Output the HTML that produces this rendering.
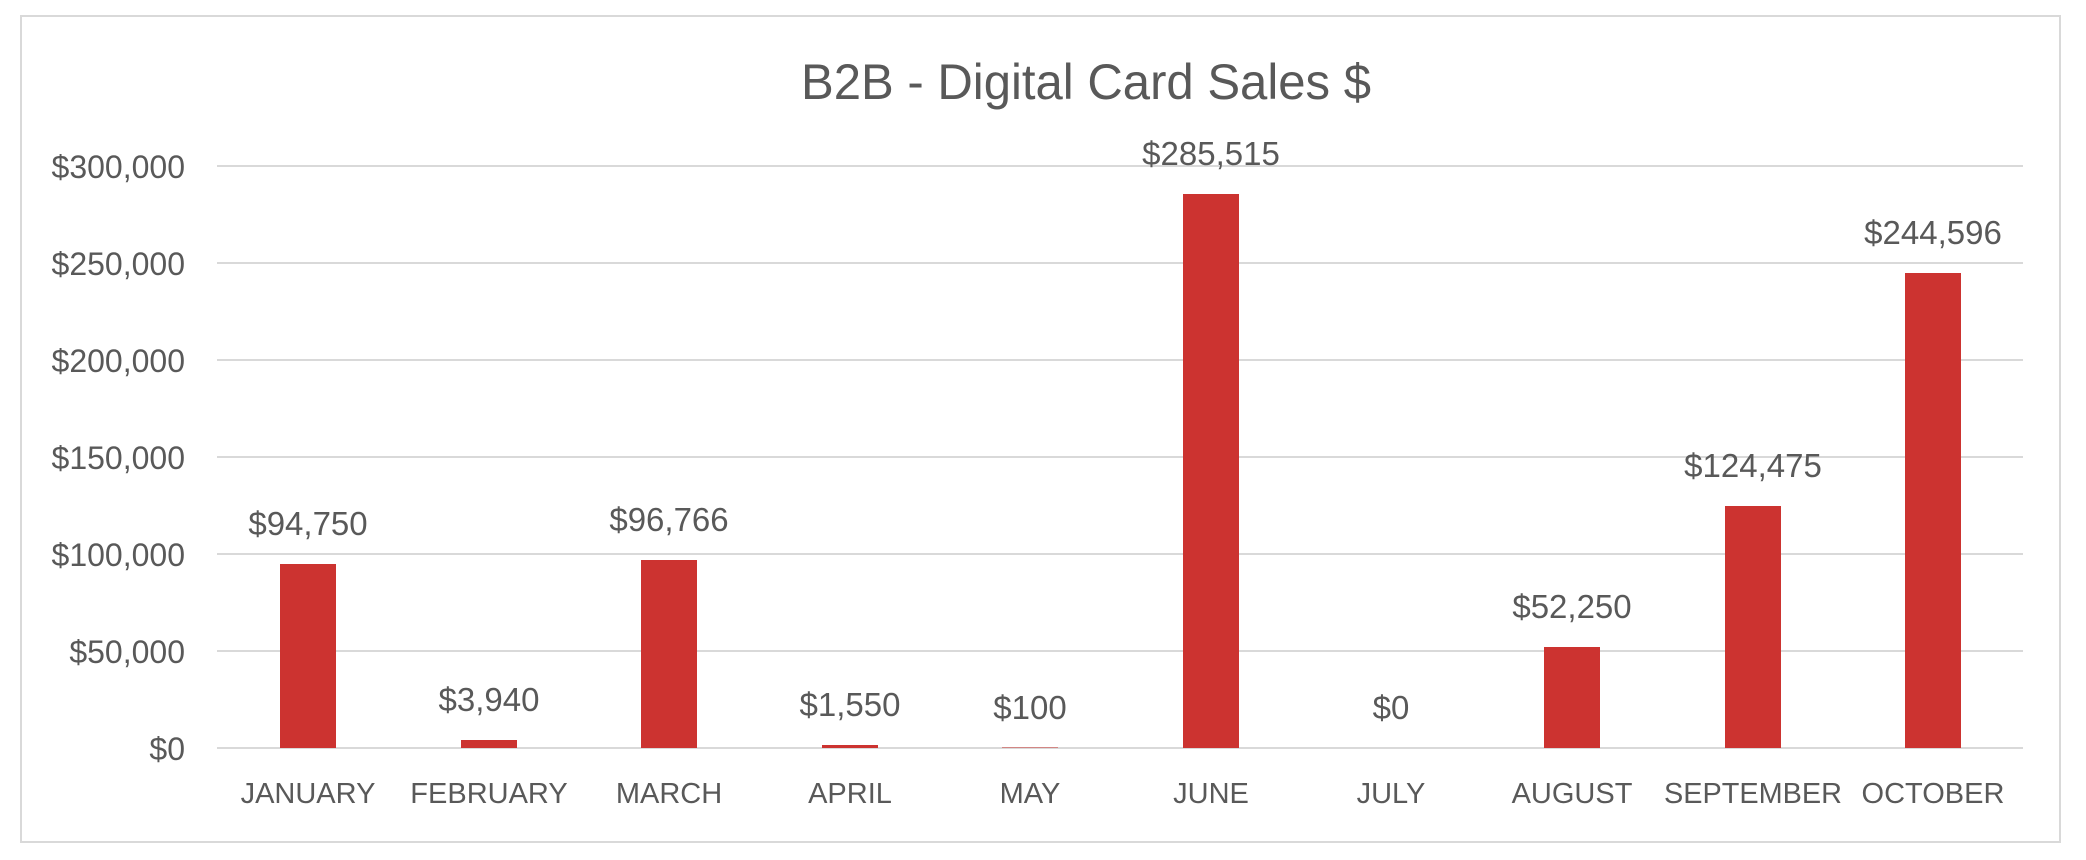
<!DOCTYPE html>
<html><head><meta charset="utf-8"><style>
html,body{margin:0;padding:0;background:#fff;}
svg{display:block;}
text{font-family:"Liberation Sans",sans-serif;fill:#595959;}
</style></head><body>
<svg width="2086" height="860" viewBox="0 0 2086 860" xmlns="http://www.w3.org/2000/svg">
<rect x="0" y="0" width="2086" height="860" fill="#fff"/>
<rect x="21" y="16" width="2039" height="826" fill="#fff" stroke="#D9D9D9" stroke-width="2"/>
<text x="1086" y="99" font-size="50" text-anchor="middle" textLength="570" lengthAdjust="spacingAndGlyphs">B2B - Digital Card Sales $</text>
<g stroke="#D9D9D9" stroke-width="2">
<line x1="217" x2="2023" y1="166" y2="166"/>
<line x1="217" x2="2023" y1="263" y2="263"/>
<line x1="217" x2="2023" y1="360" y2="360"/>
<line x1="217" x2="2023" y1="457" y2="457"/>
<line x1="217" x2="2023" y1="554" y2="554"/>
<line x1="217" x2="2023" y1="651" y2="651"/>
<line x1="217" x2="2023" y1="748" y2="748"/>
</g>
<g font-size="32" text-anchor="end">
<text x="185" y="178">$300,000</text>
<text x="185" y="275">$250,000</text>
<text x="185" y="372">$200,000</text>
<text x="185" y="469">$150,000</text>
<text x="185" y="566">$100,000</text>
<text x="185" y="663">$50,000</text>
<text x="185" y="760">$0</text>
</g>
<g fill="#CC3330">
<rect x="280" y="564" width="56" height="184"/>
<rect x="461" y="740" width="56" height="8"/>
<rect x="641" y="560" width="56" height="188"/>
<rect x="822" y="745" width="56" height="3"/>
<rect x="1002" y="747.5" width="56" height="0.5"/>
<rect x="1183" y="194" width="56" height="554"/>
<rect x="1544" y="647" width="56" height="101"/>
<rect x="1725" y="506" width="56" height="242"/>
<rect x="1905" y="273" width="56" height="475"/>
</g>
<g font-size="33" text-anchor="middle">
<text x="308" y="535">$94,750</text>
<text x="489" y="711">$3,940</text>
<text x="669" y="531">$96,766</text>
<text x="850" y="716">$1,550</text>
<text x="1030" y="719">$100</text>
<text x="1211" y="165">$285,515</text>
<text x="1391" y="719">$0</text>
<text x="1572" y="618">$52,250</text>
<text x="1753" y="477">$124,475</text>
<text x="1933" y="244">$244,596</text>
</g>
<g font-size="29" text-anchor="middle">
<text x="308" y="803">JANUARY</text>
<text x="489" y="803">FEBRUARY</text>
<text x="669" y="803">MARCH</text>
<text x="850" y="803">APRIL</text>
<text x="1030" y="803">MAY</text>
<text x="1211" y="803">JUNE</text>
<text x="1391" y="803">JULY</text>
<text x="1572" y="803">AUGUST</text>
<text x="1753" y="803" textLength="178" lengthAdjust="spacingAndGlyphs">SEPTEMBER</text>
<text x="1933" y="803">OCTOBER</text>
</g>
</svg>
</body></html>
